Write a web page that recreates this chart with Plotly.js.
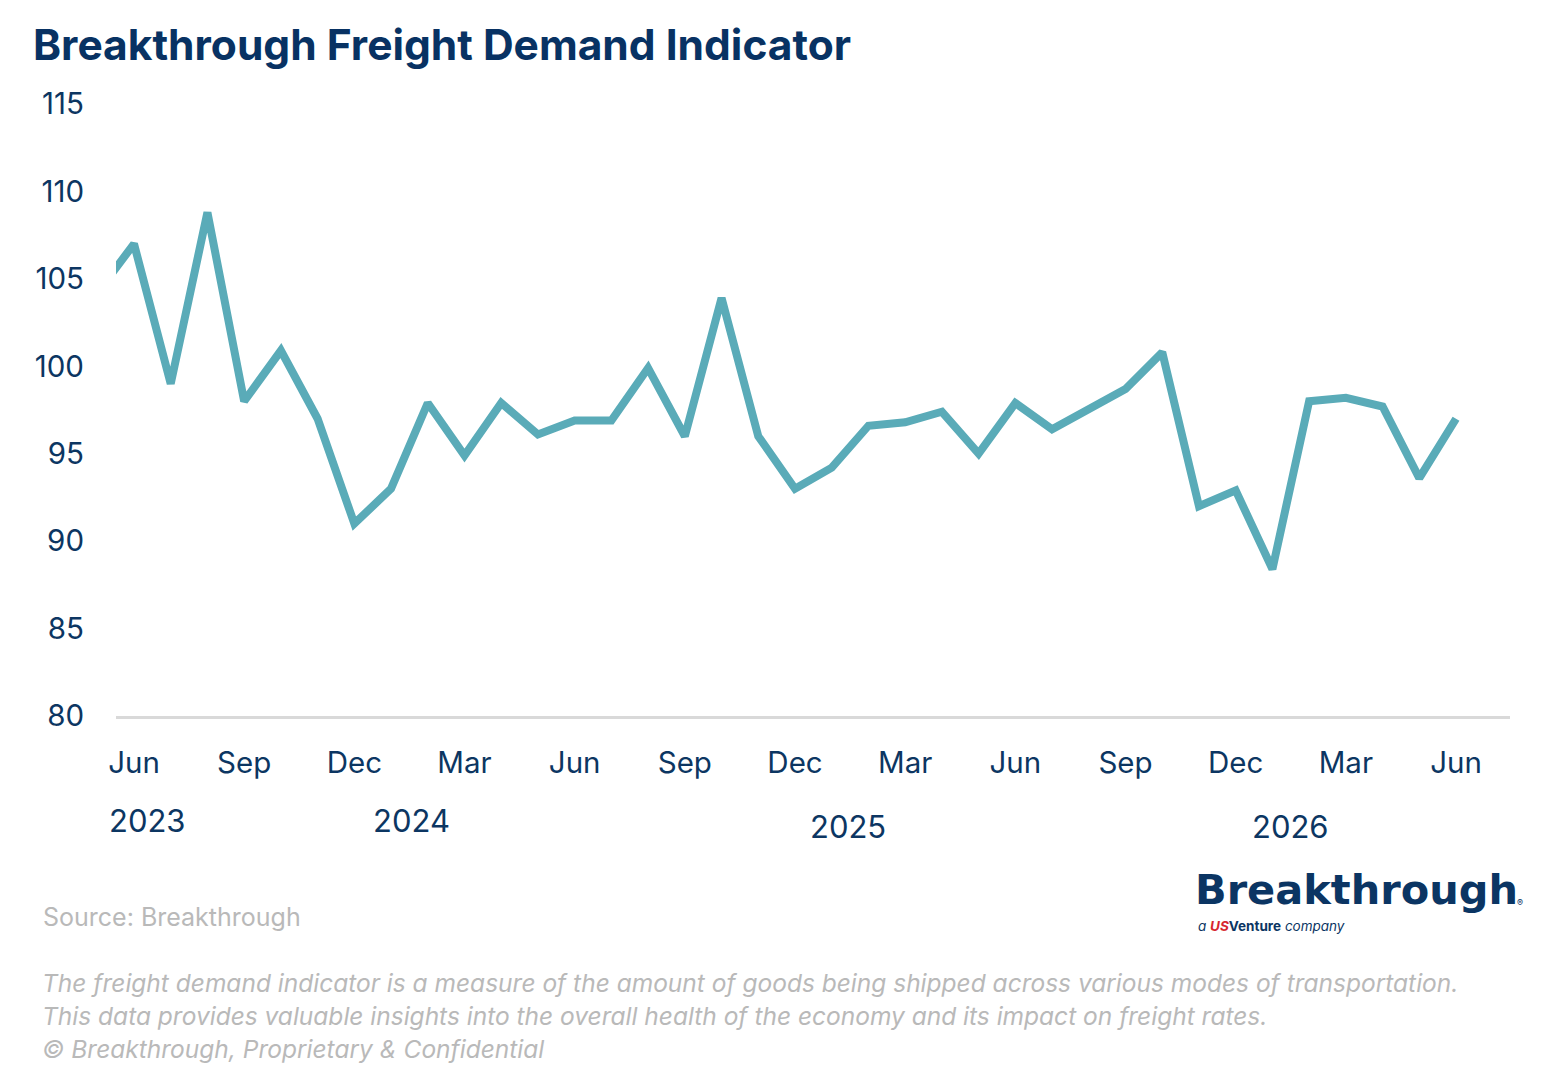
<!DOCTYPE html>
<html>
<head>
<meta charset="utf-8">
<script src="https://cdn.plot.ly/plotly-3.0.1.min.js"></script>
<style>
  html, body { margin: 0; padding: 0; background: #ffffff; }
  #chart { width: 1556px; height: 1084px; }
</style>
</head>
<body>
<div id="chart"></div>
<script>
// ---- data ----
const months = [
  "2023-05","2023-06","2023-07","2023-08","2023-09","2023-10","2023-11","2023-12",
  "2024-01","2024-02","2024-03","2024-04","2024-05","2024-06","2024-07","2024-08","2024-09","2024-10","2024-11","2024-12",
  "2025-01","2025-02","2025-03","2025-04","2025-05","2025-06","2025-07","2025-08","2025-09","2025-10","2025-11","2025-12",
  "2026-01","2026-02","2026-03","2026-04","2026-05","2026-06"
];
const indicator = [
  104.2, 107.0, 99.0, 108.8, 98.0, 100.9, 97.0, 91.0,
  93.0, 97.9, 94.9, 97.9, 96.1, 96.9, 96.9, 99.9, 96.0, 103.9, 96.0, 93.0,
  94.2, 96.6, 96.8, 97.4, 95.0, 97.9, 96.4, 97.5, 98.7, 100.8, 92.0, 92.9,
  88.4, 98.0, 98.2, 97.7, 93.6, 97.0
];
const tickMonths = ["2023-06","2023-09","2023-12","2024-03","2024-06","2024-09","2024-12","2025-03","2025-06","2025-09","2025-12","2026-03","2026-06"];
const tickLabels = ["Jun","Sep","Dec","Mar","Jun","Sep","Dec","Mar","Jun","Sep","Dec","Mar","Jun"];
const yTicks = [80, 85, 90, 95, 100, 105, 110, 115];
const yearLabels = ["2023", "2024", "2025", "2026"];

const titleText = "Breakthrough Freight Demand Indicator";
const sourceText = "Source: Breakthrough";
const noteLines = [
  "The freight demand indicator is a measure of the amount of goods being shipped across various modes of transportation.",
  "This data provides valuable insights into the overall health of the economy and its impact on freight rates.",
  "© Breakthrough, Proprietary & Confidential"
];

// ---- layout helpers ----
const W = 1556, H = 1084;
const plotL = 116, plotR = 1510, plotT = 104, plotB = 716;
const px = x => (x - plotL) / (plotR - plotL);
const py = y => (plotB - y) / (plotB - plotT);

const navy = "#0c3662";
const teal = "#5aabb8";
const grey = "#b9b9b9";
const FONT = "Inter, 'Noto Sans', sans-serif";

const trace = {
  type: "scatter",
  mode: "lines",
  x: months,
  y: indicator,
  line: { color: teal, width: 8 },
  hoverinfo: "x+y"
};

const yearPos = [[147, 820], [411, 820], [848, 826], [1290, 826]];
const annotations = [];
yearLabels.forEach((t, i) => {
  annotations.push({
    text: t, xref: "paper", yref: "paper",
    x: px(yearPos[i][0]), y: py(yearPos[i][1]),
    xanchor: "center", yanchor: "middle", showarrow: false,
    font: { family: FONT, size: 31, color: navy }
  });
});
annotations.push({
  text: sourceText, xref: "paper", yref: "paper",
  x: px(41), y: py(917), xanchor: "left", yanchor: "middle", showarrow: false,
  font: { family: FONT, size: 25, color: grey }
});
const noteY = [983, 1016, 1049];
noteLines.forEach((t, i) => {
  annotations.push({
    text: "<i>" + t + "</i>", xref: "paper", yref: "paper",
    x: px(40), y: py(noteY[i]), xanchor: "left", yanchor: "middle", showarrow: false,
    font: { family: FONT, size: 24.5, color: grey }
  });
});
// logo
annotations.push({
  text: "<b>Breakthrough</b>", xref: "paper", yref: "paper",
  x: px(1193), y: py(890), xanchor: "left", yanchor: "middle", showarrow: false,
  font: { family: "'DejaVu Sans', sans-serif", size: 41.5, color: "#0b3563" }
});
annotations.push({
  text: "®", xref: "paper", yref: "paper",
  x: px(1515), y: py(902), xanchor: "left", yanchor: "middle", showarrow: false,
  font: { family: FONT, size: 9, color: "#0b3563" }
});
annotations.push({
  text: "<i>a</i> <b><i><span style='color:#d7262e'>US</span></i>Venture</b> <i>company</i>", xref: "paper", yref: "paper",
  x: px(1196), y: py(926), xanchor: "left", yanchor: "middle", showarrow: false,
  font: { family: FONT, size: 13.5, color: "#0b3563" }
});

const layout = {
  width: W, height: H,
  paper_bgcolor: "#ffffff", plot_bgcolor: "#ffffff",
  margin: { l: plotL, r: W - plotR, t: plotT, b: H - plotB, pad: 0 },
  showlegend: false,
  title: {
    text: "<b>" + titleText + "</b>",
    x: 33 / W, xanchor: "left", xref: "container",
    y: 1 - 45 / H, yanchor: "middle", yref: "container",
    font: { family: FONT, size: 42.5, color: "#083263" }
  },
  xaxis: {
    type: "category",
    range: [0.51, 38.47],
    tickmode: "array",
    tickvals: tickMonths,
    ticktext: tickLabels,
    showgrid: false, zeroline: false,
    showline: true, linecolor: "#d9d9d9", linewidth: 3,
    ticks: "", ticklabelstandoff: 19,
    tickfont: { family: FONT, size: 29.5, color: navy },
    fixedrange: true
  },
  yaxis: {
    range: [80, 115],
    tickmode: "array",
    tickvals: yTicks,
    showgrid: false, zeroline: false, showline: false,
    ticks: "", ticklabelstandoff: 31,
    tickfont: { family: FONT, size: 29.5, color: navy },
    fixedrange: true
  },
  annotations: annotations
};

Plotly.newPlot("chart", [trace], layout, { displayModeBar: false, staticPlot: true });
</script>
</body>
</html>
